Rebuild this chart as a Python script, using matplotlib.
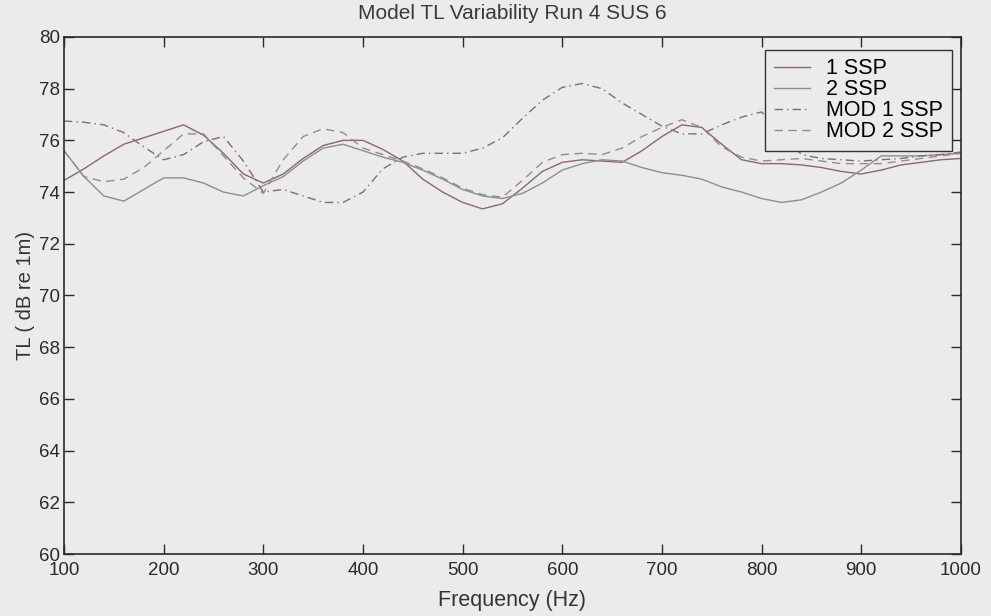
import matplotlib
matplotlib.use("Agg")
import matplotlib.pyplot as plt

plt.rcParams['font.family'] = ['Liberation Sans', 'DejaVu Sans']

freq = [100, 120, 140, 160, 180, 200, 220, 240, 260, 280,
        300, 320, 340, 360, 380, 400, 420, 440, 460, 480,
        500, 520, 540, 560, 580, 600, 620, 640, 660, 680,
        700, 720, 740, 760, 780, 800, 820, 840, 860, 880,
        900, 920, 940, 960, 980, 1000]

ssp1 = [74.45, 74.9, 75.4, 75.85, 76.1, 76.35, 76.6, 76.2, 75.5, 74.7,
        74.35, 74.7, 75.3, 75.8, 76.0, 76.0, 75.65, 75.2, 74.5, 74.0,
        73.6, 73.35, 73.55, 74.15, 74.8, 75.15, 75.25, 75.2, 75.15, 75.6,
        76.15, 76.6, 76.5, 75.85, 75.25, 75.1, 75.1, 75.05, 74.95, 74.8,
        74.7, 74.85, 75.05, 75.15, 75.25, 75.3]

ssp2 = [75.6, 74.6, 73.85, 73.65, 74.1, 74.55, 74.55, 74.35, 74.0, 73.85,
        74.25, 74.6, 75.2, 75.7, 75.85, 75.6, 75.35, 75.15, 74.85, 74.5,
        74.1, 73.85, 73.75, 73.95, 74.35, 74.85, 75.1, 75.25, 75.2, 74.95,
        74.75, 74.65, 74.5, 74.2, 74.0, 73.75, 73.6, 73.7, 74.0, 74.35,
        74.85, 75.4, 75.4, 75.4, 75.45, 75.5]

mod1 = [76.75, 76.7, 76.6, 76.3, 75.75, 75.25, 75.45, 75.95, 76.15, 75.2,
        74.0, 74.1, 73.85, 73.6, 73.6, 74.0, 74.9, 75.35, 75.5, 75.5,
        75.5, 75.7, 76.1, 76.85, 77.55, 78.05, 78.2, 78.0, 77.45, 77.0,
        76.55, 76.25, 76.25, 76.6, 76.9, 77.1, 76.3, 75.45, 75.3, 75.25,
        75.2, 75.25, 75.3, 75.4, 75.45, 75.55]

mod2 = [75.6, 74.6, 74.4, 74.5, 74.95, 75.6, 76.25, 76.25, 75.4, 74.55,
        73.95, 75.25, 76.15, 76.45, 76.3, 75.7, 75.45, 75.2, 74.9, 74.55,
        74.15, 73.9, 73.8, 74.45, 75.15, 75.45, 75.5, 75.45, 75.7, 76.15,
        76.5, 76.8, 76.5, 75.75, 75.35, 75.2, 75.25, 75.3, 75.2, 75.1,
        75.1, 75.1, 75.2, 75.3, 75.4, 75.5]

bg = '#ebebe9'
ink = '#2a2a2a'
fig = plt.figure(figsize=(9.91, 6.16), dpi=100, facecolor=bg)
ax = fig.add_axes([0.0646, 0.1006, 0.905, 0.8394], facecolor=bg)

ax.plot(freq, ssp1, '-', color='#8a6870', lw=1.0, label='1 SSP')
ax.plot(freq, ssp2, '-', color='#8e8e8e', lw=1.0, label='2 SSP')
ax.plot(freq, mod1, color='#8a6870', lw=1.0, dashes=(6, 3, 1, 3), label='MOD 1 SSP')
ax.plot(freq, mod2, color='#8e8e8e', lw=1.0, dashes=(6, 4), label='MOD 2 SSP')

ax.set_xlim(100, 1000)
ax.set_ylim(60, 80)
ax.set_xticks(range(100, 1001, 100))
ax.set_yticks(range(60, 81, 2))
ax.tick_params(direction='in', length=7, width=1, top=True, right=True,
               labelsize=13.5, colors=ink)
ax.tick_params(axis='x', pad=6)
ax.tick_params(axis='y', pad=3)
for s in ax.spines.values():
    s.set_color(ink)
    s.set_linewidth(1.2)

ax.set_title('Model TL Variability Run 4 SUS 6', fontsize=15, color='#3a3a3a', pad=13)
ax.set_xlabel('Frequency (Hz)', fontsize=15.5, color='#333333', labelpad=8)
ax.set_ylabel('TL ( dB re 1m)', fontsize=14.5, color='#333333', labelpad=3)

leg = ax.legend(loc='upper right', bbox_to_anchor=(0.99, 0.975), borderaxespad=0,
                fontsize=15.5, frameon=True, fancybox=False,
                handlelength=1.7, handletextpad=0.75, borderpad=0.4,
                labelspacing=0.0)
leg.get_frame().set_edgecolor('#333333')
leg.get_frame().set_facecolor(bg)
leg.get_frame().set_alpha(1.0)
leg.get_frame().set_linewidth(1.0)

fig.savefig('out.png', dpi=100, facecolor=bg)
